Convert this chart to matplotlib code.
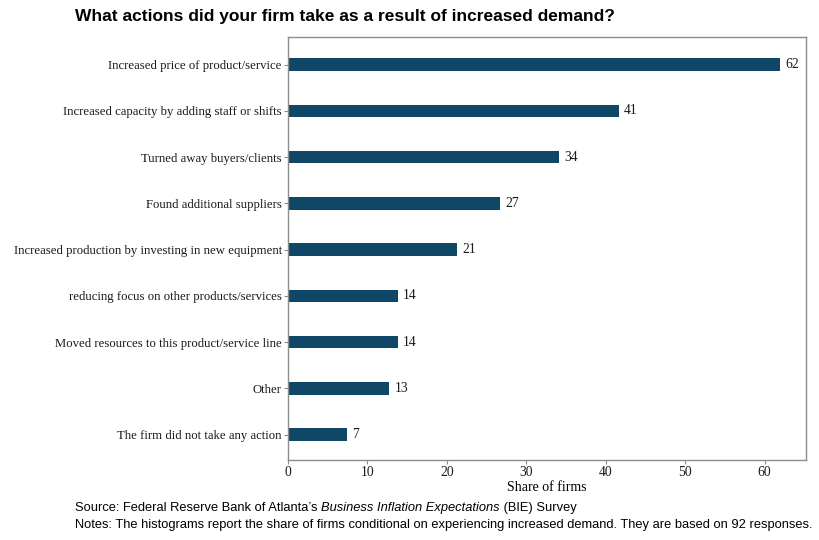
import matplotlib
matplotlib.use("Agg")
import matplotlib.pyplot as plt

# ─── DATA ─────────────────────────────────────────────────────────────────────
categories = [
    "Increased price of product/service",
    "Increased capacity by adding staff or shifts",
    "Turned away buyers/clients",
    "Found additional suppliers",
    "Increased production by investing in new equipment",
    "reducing focus on other products/services",
    "Moved resources to this product/service line",
    "Other",
    "The firm did not take any action",
]
shares = [61.9, 41.6, 34.1, 26.7, 21.3, 13.8, 13.8, 12.7, 7.4]
labels = ["62", "41", "34", "27", "21", "14", "14", "13", "7"]
xticks = [0, 10, 20, 30, 40, 50, 60]

BAR = "#114766"
SPINE = "#8c8c8c"
TXT = "#1a1a1a"
SERIF = "Liberation Serif"
SANS = "Liberation Sans"

fig = plt.figure(figsize=(8.19, 5.4), dpi=100)
ax = fig.add_axes([288 / 819, 1 - 460 / 540, (806 - 288) / 819, (460 - 37) / 540])

ypos = list(range(len(categories)))
ax.barh(ypos, shares, height=0.27, color=BAR)
for y, v, lab in zip(ypos, shares, labels):
    ax.text(v + 0.7, y, lab, va="center", ha="left", fontsize=9.8,
            family=SERIF, color=TXT)

ax.set_ylim(len(categories) - 0.45, -0.6)
ax.set_xlim(0, 65.2)
ax.set_yticks(ypos)
ax.set_yticklabels(categories, family=SERIF, fontsize=9.15)
ax.set_xticks(xticks)
ax.set_xticklabels([str(t) for t in xticks], family=SERIF, fontsize=9.8)
ax.set_xlabel("Share of firms", family=SERIF, fontsize=10, labelpad=1)

for s in ax.spines.values():
    s.set_color(SPINE)
    s.set_linewidth(1.0)
ax.tick_params(axis="both", colors=SPINE, length=3, pad=1.5, labelcolor=TXT)

fig.text(75 / 819, 1 - 17 / 540,
         "What actions did your firm take as a result of increased demand?",
         family=SANS, fontsize=12.5, fontweight="bold", va="center", ha="left")

# source line with italic survey name
renderer = fig.canvas.get_renderer()
x = 75
ysrc = 1 - 508 / 540
for part, style in [("Source: Federal Reserve Bank of Atlanta\u2019s ", "normal"),
                    ("Business Inflation Expectations", "italic"),
                    (" (BIE) Survey", "normal")]:
    t = fig.text(x / 819, ysrc, part, family=SANS, fontsize=9.25, style=style,
                 va="center", ha="left")
    x += t.get_window_extent(renderer).width

fig.text(75 / 819, 1 - 525 / 540,
         "Notes: The histograms report the share of firms conditional on experiencing increased demand. "
         "They are based on 92 responses.",
         family=SANS, fontsize=9.25, va="center", ha="left")

fig.savefig("out.png", dpi=100, facecolor="white")
